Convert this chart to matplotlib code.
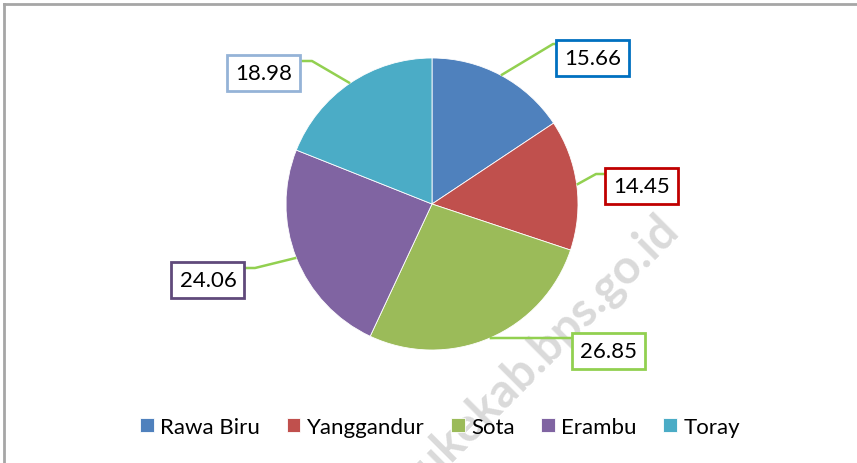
import numpy as np
import matplotlib
matplotlib.use("Agg")
import matplotlib.pyplot as plt
from matplotlib.patches import Rectangle
from matplotlib.lines import Line2D

plt.rcParams['font.family'] = ['Lato', 'DejaVu Sans']

names = ["Rawa Biru", "Yanggandur", "Sota", "Erambu", "Toray"]
values = [15.66, 14.45, 26.85, 24.06, 18.98]
colors = ["#4F81BD", "#C0504D", "#9BBB59", "#8064A2", "#4BACC6"]
box_edges = ["#0070C0", "#C00000", "#92D050", "#604A7B", "#95B3D7"]

# label layout in pixels (from top-left)
box_xy = [(593, 59), (642, 187), (609, 352), (208, 281), (264, 74)]
elbow_xy = [(553, 45), (596, 175), (495, 339), (255, 269), (312, 62)]
end_xy = [(557, 45), (607, 175), (573, 339), (244, 269), (300, 62)]

W, H = 857, 464
fig = plt.figure(figsize=(W / 100, H / 100), dpi=100)
ax = fig.add_axes([0, 0, 1, 1])

cx, cy, r = 432, H - 205, 146
wedges, _ = ax.pie(values, colors=colors, startangle=90, counterclock=False,
                   center=(cx, cy), radius=r,
                   wedgeprops=dict(linewidth=0.6, edgecolor="white"))
for w in wedges:
    w.set_zorder(2)

ax.set_xlim(0, W)
ax.set_ylim(0, H)
ax.set_aspect("equal")
ax.axis("off")

bw, bh = 73, 36
for i, w in enumerate(wedges):
    mid = np.deg2rad((w.theta1 + w.theta2) / 2)
    sx, sy = cx + r * np.cos(mid), cy + r * np.sin(mid)
    ex, ey = elbow_xy[i]
    tx, ty = end_xy[i]
    ax.plot([sx, ex, tx], [sy, H - ey, H - ty], color="#92D050", lw=1.8,
            zorder=3, solid_capstyle="butt")
    bx, by = box_xy[i]
    ax.add_patch(Rectangle((bx - bw / 2, H - by - bh / 2), bw, bh,
                           facecolor="white", edgecolor=box_edges[i], lw=2, zorder=4))
    ax.text(bx, H - by, f"{values[i]:.2f}", ha="center", va="center",
            fontsize=16, color="black", zorder=5)

# watermark
ax.text(680, H - 232, "meraukekab.bps.go.id", rotation=45, rotation_mode="anchor",
        ha="right", va="baseline", fontsize=34, fontweight="bold",
        color="#dadada", zorder=0)

leg = fig.legend(wedges, names, loc="center", bbox_to_anchor=(440 / W, 1 - 428 / H),
                 ncol=5, frameon=False, fontsize=16, handlelength=0.62,
                 handleheight=0.62, handletextpad=0.28, columnspacing=1.2)

fig.add_artist(Line2D([4 / W, 4 / W], [0, 1 - 5 / H], color="#a6a6a6", lw=2))
fig.add_artist(Line2D([4 / W, 1], [1 - 5 / H, 1 - 5 / H], color="#a6a6a6", lw=2))

fig.savefig("out.png", dpi=100)
